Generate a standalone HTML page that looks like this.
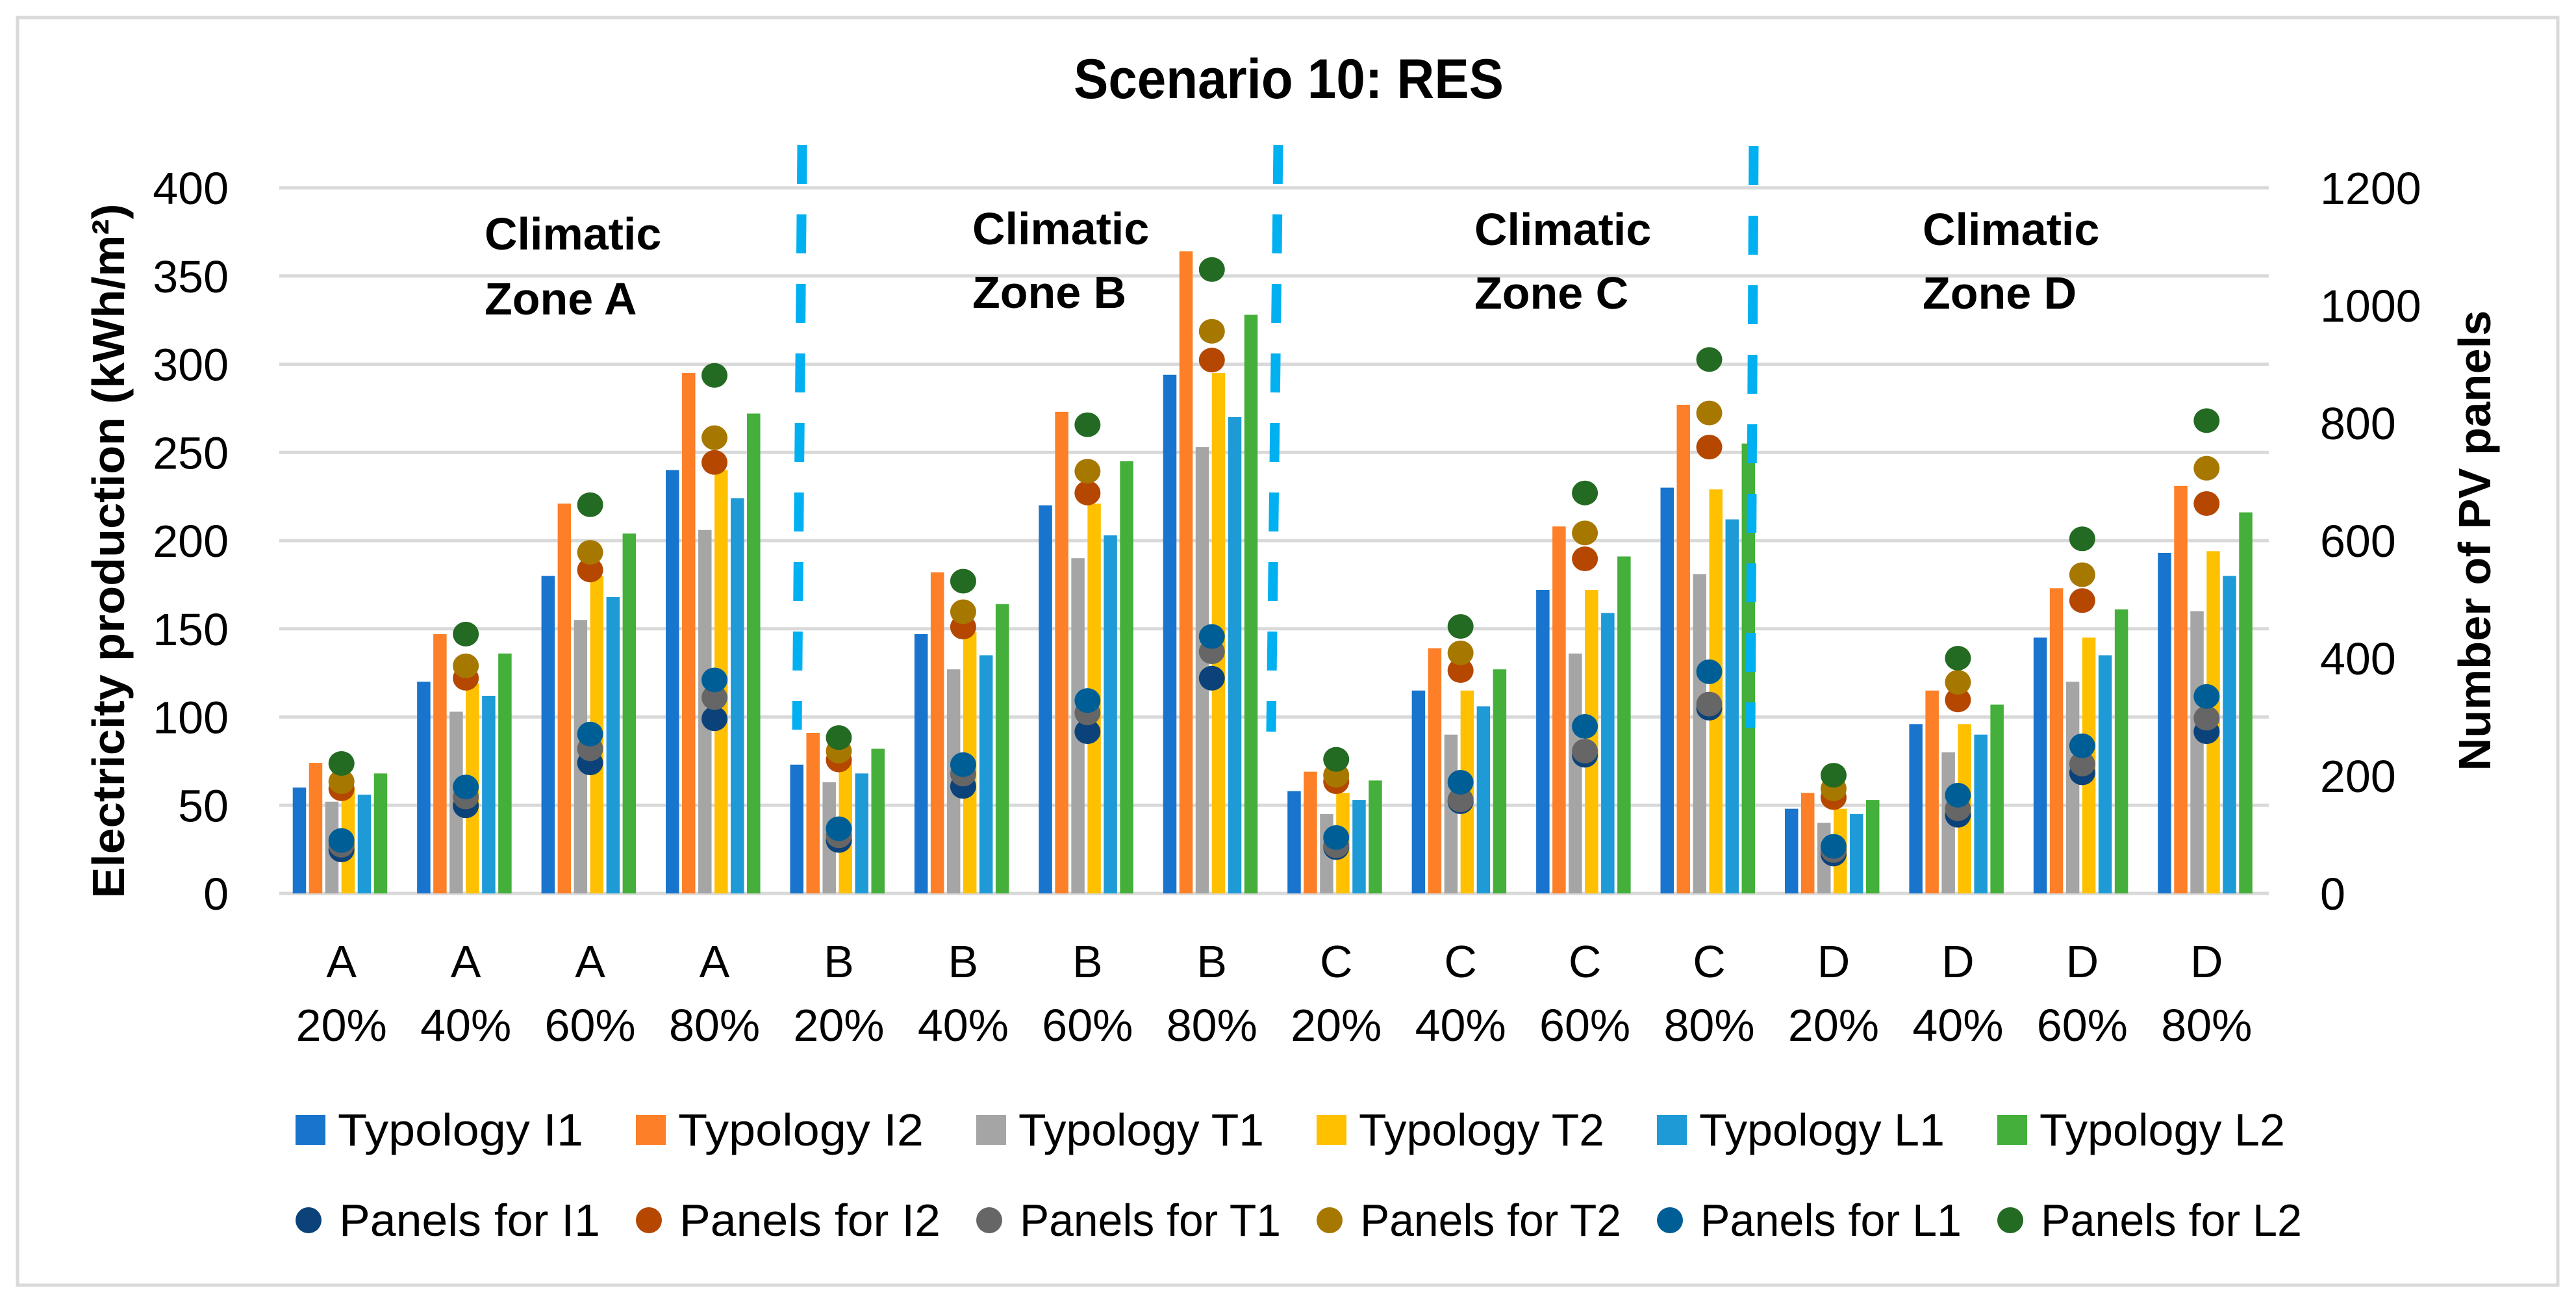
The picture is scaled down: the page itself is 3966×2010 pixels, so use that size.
<!DOCTYPE html>
<html><head><meta charset="utf-8"><style>
html,body{margin:0;padding:0;background:#fff;}
svg{display:block;font-family:"Liberation Sans",sans-serif;}
</style></head><body>
<svg id="chart" width="3966" height="2010" viewBox="0 0 3966 2010" xmlns="http://www.w3.org/2000/svg">
<rect x="27" y="27" width="3911" height="1951" fill="#fff" stroke="#d9d9d9" stroke-width="5"/>
<text x="1984" y="151" font-size="86" font-weight="bold" text-anchor="middle" textLength="662" lengthAdjust="spacingAndGlyphs">Scenario 10: RES</text>
<g id="grid"></g><g id="bars"></g><g id="dashes"></g><g id="dots"></g><g id="axes"></g>
<text transform="translate(191,848) rotate(-90)" font-size="70" font-weight="bold" text-anchor="middle" textLength="1069" lengthAdjust="spacingAndGlyphs">Electricity production (kWh/m²)</text>
<text transform="translate(3834,832) rotate(-90)" font-size="70" font-weight="bold" text-anchor="middle" textLength="709" lengthAdjust="spacingAndGlyphs">Number of PV panels</text>
<g font-size="70" font-weight="bold"><text x="746" y="384">Climatic</text><text x="746" y="484">Zone A</text></g>
<g font-size="70" font-weight="bold"><text x="1497" y="376">Climatic</text><text x="1497" y="474">Zone B</text></g>
<g font-size="70" font-weight="bold"><text x="2270" y="377">Climatic</text><text x="2270" y="475">Zone C</text></g>
<g font-size="70" font-weight="bold"><text x="2960" y="377">Climatic</text><text x="2960" y="475">Zone D</text></g>
<g id="legend"></g>
</svg>
<script>
const zones = ["A","A","A","A","B","B","B","B","C","C","C","C","D","D","D","D"];
const shares = ["20%","40%","60%","80%","20%","40%","60%","80%","20%","40%","60%","80%","20%","40%","60%","80%"];
const barNames = ["Typology I1","Typology I2","Typology T1","Typology T2","Typology L1","Typology L2"];
const dotNames = ["Panels for I1","Panels for I2","Panels for T1","Panels for T2","Panels for L1","Panels for L2"];
const leftTicks = [0,50,100,150,200,250,300,350,400];
const rightTicks = [0,200,400,600,800,1000,1200];
const prodI1 = [60,120,180,240,73,147,220,294,58,115,172,230,48,96,145,193];
const prodI2 = [74,147,221,295,91,182,273,364,69,139,208,277,57,115,173,231];
const prodT1 = [52,103,155,206,63,127,190,253,45,90,136,181,40,80,120,160];
const prodT2 = [60,119,180,240,74,148,221,295,57,115,172,229,48,96,145,194];
const prodL1 = [56,112,168,224,68,135,203,270,53,106,159,212,45,90,135,180];
const prodL2 = [68,136,204,272,82,164,245,328,64,127,191,255,53,107,161,216];
const panI1 = [74,149,222,297,90,182,275,366,78,156,235,315,67,133,205,275];
const panI2 = [178,366,550,733,227,453,681,907,190,379,569,759,163,329,498,663];
const panT1 = [82,164,246,333,98,203,307,411,81,159,242,322,73,144,220,298];
const panT2 = [190,387,580,775,242,479,718,956,201,409,613,817,178,359,542,723];
const panL1 = [90,181,271,363,110,219,328,437,95,189,284,377,80,167,251,335];
const panL2 = [221,441,661,881,265,531,797,1061,228,454,681,908,201,400,603,804];
const barSeries = [prodI1,prodI2,prodT1,prodT2,prodL1,prodL2];
const dotSeries = [panI1,panI2,panT1,panT2,panL1,panL2];
const barColors = ["#1874cd","#fd7f27","#a5a5a5","#ffc000","#1e9bd7","#44af3a"];
const dotColors = ["#0b4279","#b54700","#666666","#a67800","#005e96","#236a22"];

const NS="http://www.w3.org/2000/svg";
const X0=430, X1=3493, Y0=1375, YTOP=289;
const groupW=(X1-X0)/zones.length;
function xc(i){return X0+groupW*(i+0.5);}
function yL(v){return Y0-(Y0-YTOP)*v/400;}
function yR(v){return Y0-(Y0-YTOP)*v/1200;}
function mk(tag,attrs,parent){const e=document.createElementNS(NS,tag);for(const k in attrs)e.setAttribute(k,attrs[k]);parent.appendChild(e);return e;}

const grid=document.getElementById('grid'), axes=document.getElementById('axes');
leftTicks.forEach(v=>{
  const l=mk('line',{x1:X0,x2:X1,y1:yL(v),y2:yL(v),stroke:'#d9d9d9','stroke-width':5},grid);
  
  
  const t=mk('text',{x:352,y:yL(v)+25,'font-size':70,'text-anchor':'end'},axes);
  t.textContent=v;
  
  
});
rightTicks.forEach(v=>{
  const t=mk('text',{x:3572,y:yR(v)+25,'font-size':70},axes);
  t.textContent=v;
  
  
});
zones.forEach((z,i)=>{
  const t=mk('text',{x:xc(i),y:1504,'font-size':70,'text-anchor':'middle'},axes);
  t.textContent=z;
  
  
  const t2=mk('text',{x:xc(i),y:1602,'font-size':70,'text-anchor':'middle'},axes);
  t2.textContent=shares[i];
  
  
});
const bars=document.getElementById('bars');
barSeries.forEach((s,k)=>{
  s.forEach((v,i)=>{
    const r=mk('rect',{x:xc(i)-75+25*k,y:yL(v),width:20.5,height:Y0-yL(v),fill:barColors[k]},bars);
    
    
  });
});
const dashes=document.getElementById('dashes');
[[1235,223,1227,1123],[1968,223,1957,1126],[2700,225,2695,1120]].forEach(d=>{
  const l=mk('line',{x1:d[0],y1:d[1],x2:d[2],y2:d[3],stroke:'#00b0f0','stroke-width':15,'stroke-dasharray':'60 47'},dashes);
  
  
});
const dots=document.getElementById('dots');
dotSeries.forEach((s,k)=>{
  s.forEach((v,i)=>{
    const c=mk('ellipse',{cx:xc(i),cy:yR(v),rx:20,ry:19,fill:dotColors[k]},dots);
    
    
  });
});
const legend=document.getElementById('legend');
barNames.forEach((n,k)=>{
  const x=455+524*k;
  const g=mk('g',{},legend);
  
  
  mk('rect',{x:x,y:1716,width:46,height:46,fill:barColors[k]},g);
  const t=mk('text',{x:x+65,y:1763,'font-size':70,textLength:378,lengthAdjust:'spacingAndGlyphs'},g);
  t.textContent=n;
});
dotNames.forEach((n,k)=>{
  const x=455+524*k;
  const g=mk('g',{},legend);
  
  
  mk('ellipse',{cx:x+20,cy:1878,rx:20,ry:20,fill:dotColors[k]},g);
  const t=mk('text',{x:x+67,y:1902,'font-size':70,textLength:402,lengthAdjust:'spacingAndGlyphs'},g);
  t.textContent=n;
});
</script>
</body></html>
